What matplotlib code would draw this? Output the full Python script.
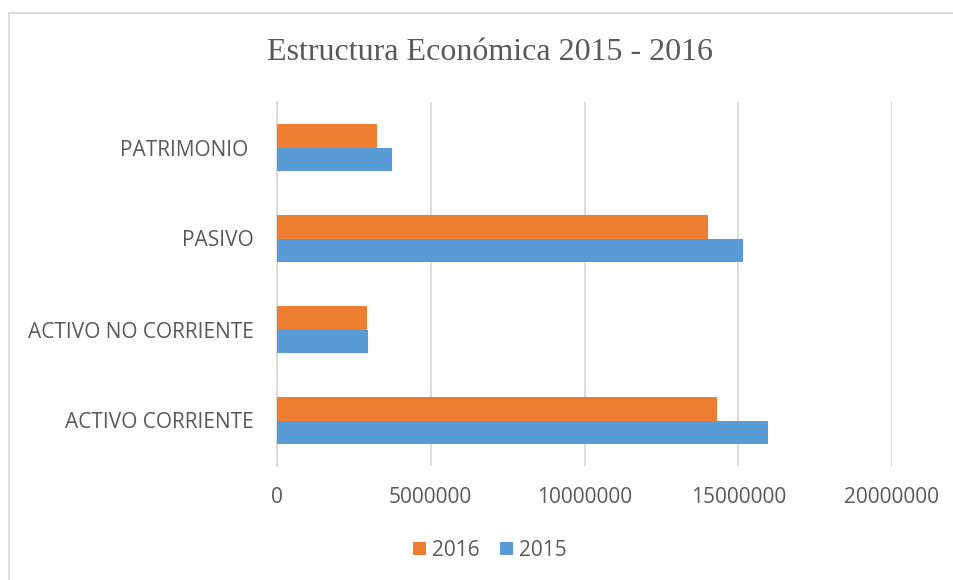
import matplotlib
matplotlib.use("Agg")
import matplotlib.pyplot as plt
import numpy as np
from matplotlib.lines import Line2D

categories = ["ACTIVO CORRIENTE", "ACTIVO NO CORRIENTE", "PASIVO", "PATRIMONIO "]
values_2015 = [15960000, 2950000, 15170000, 3750000]
values_2016 = [14320000, 2940000, 14000000, 3240000]
xticks = [0, 5000000, 10000000, 15000000, 20000000]

W, H = 954, 580
fig = plt.figure(figsize=(W / 100, H / 100), dpi=100)
fig.patch.set_facecolor("white")
ax = fig.add_axes([277 / W, 1 - 466 / H, (892 - 277) / W, (466 - 102) / H])

y = np.arange(len(categories))
bh = 0.26
ax.barh(y - bh / 2, values_2015, height=bh, color="#5B9BD5", label="2015", zorder=3)
ax.barh(y + bh / 2, values_2016, height=bh, color="#ED7D31", label="2016", zorder=3)

ax.set_xlim(0, 20000000)
ax.set_ylim(-0.5, 3.5)
ax.set_xticks(xticks)
ax.set_xticklabels([str(v) for v in xticks])
ax.set_yticks(y)
ax.set_yticklabels(categories)
ax.grid(axis="x", color="#D9D9D9", linewidth=1.3, zorder=0)
ax.tick_params(axis="both", length=0, labelsize=15, labelcolor="#595959")
ax.tick_params(axis="x", pad=15)
ax.tick_params(axis="y", pad=17)
for lab in ax.get_xticklabels() + ax.get_yticklabels():
    lab.set_family("Open Sans")
for s in ["top", "right", "bottom"]:
    ax.spines[s].set_visible(False)
ax.spines["left"].set_color("#D9D9D9")
ax.spines["left"].set_linewidth(1.3)

fig.text(490 / W, 1 - 52 / H, "Estructura Económica 2015 - 2016", ha="center", va="center",
         fontsize=23, family="Liberation Serif", color="#595959")

handles, labels = ax.get_legend_handles_labels()
leg = fig.legend(handles[::-1], labels[::-1], loc="center", bbox_to_anchor=(490 / W, 1 - 550 / H),
                 ncol=2, frameon=False, prop={"family": "Open Sans", "size": 15},
                 handlelength=0.6, handleheight=0.6, handletextpad=0.3, columnspacing=1.0)
for t in leg.get_texts():
    t.set_color("#595959")

fig.add_artist(Line2D([9 / W, 9 / W], [0, 1 - 13 / H], transform=fig.transFigure, color="#D9D9D9", lw=1.3))
fig.add_artist(Line2D([9 / W, 1], [1 - 13 / H, 1 - 13 / H], transform=fig.transFigure, color="#D9D9D9", lw=1.3))

fig.savefig("out.png", dpi=100, facecolor="white")
